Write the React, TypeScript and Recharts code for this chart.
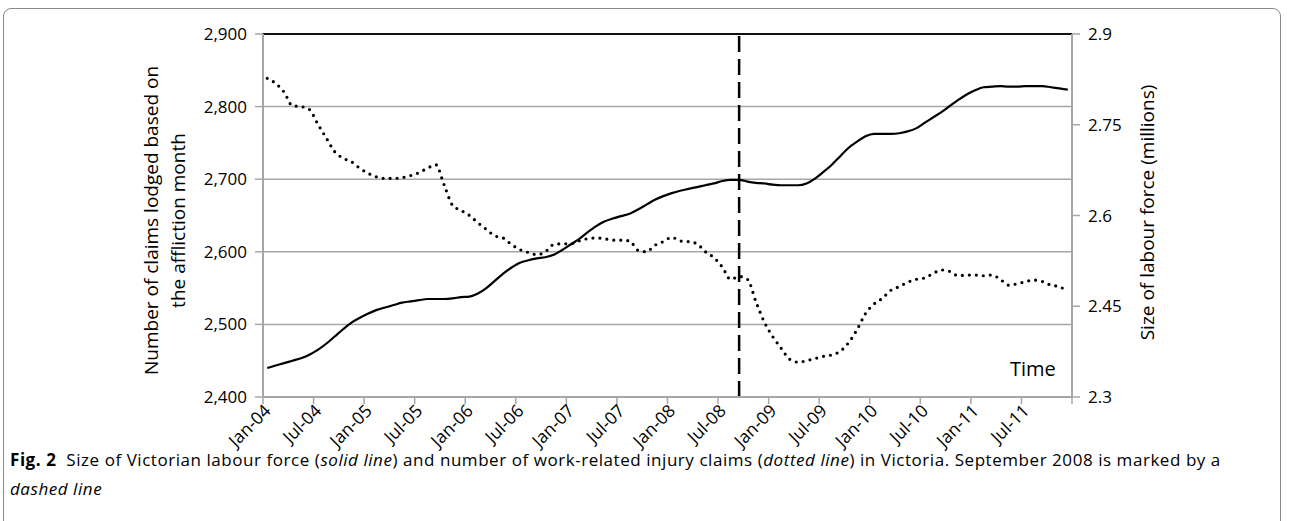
import {
  ComposedChart,
  Line,
  XAxis,
  YAxis,
  CartesianGrid,
  ReferenceLine,
} from "recharts";

const months = [
  "Jan-04", "Feb-04", "Mar-04", "Apr-04", "May-04", "Jun-04", "Jul-04", "Aug-04", "Sep-04", "Oct-04", "Nov-04", "Dec-04",
  "Jan-05", "Feb-05", "Mar-05", "Apr-05", "May-05", "Jun-05", "Jul-05", "Aug-05", "Sep-05", "Oct-05", "Nov-05", "Dec-05",
  "Jan-06", "Feb-06", "Mar-06", "Apr-06", "May-06", "Jun-06", "Jul-06", "Aug-06", "Sep-06", "Oct-06", "Nov-06", "Dec-06",
  "Jan-07", "Feb-07", "Mar-07", "Apr-07", "May-07", "Jun-07", "Jul-07", "Aug-07", "Sep-07", "Oct-07", "Nov-07", "Dec-07",
  "Jan-08", "Feb-08", "Mar-08", "Apr-08", "May-08", "Jun-08", "Jul-08", "Aug-08", "Sep-08", "Oct-08", "Nov-08", "Dec-08",
  "Jan-09", "Feb-09", "Mar-09", "Apr-09", "May-09", "Jun-09", "Jul-09", "Aug-09", "Sep-09", "Oct-09", "Nov-09", "Dec-09",
  "Jan-10", "Feb-10", "Mar-10", "Apr-10", "May-10", "Jun-10", "Jul-10", "Aug-10", "Sep-10", "Oct-10", "Nov-10", "Dec-10",
  "Jan-11", "Feb-11", "Mar-11", "Apr-11", "May-11", "Jun-11", "Jul-11", "Aug-11", "Sep-11", "Oct-11", "Nov-11", "Dec-11",
];

// claims lodged per affliction month (left axis, dotted)
const claims = [
  2839, 2832, 2820, 2801, 2800, 2796, 2776, 2757, 2738, 2729, 2724, 2715,
  2708, 2703, 2701, 2701, 2702, 2705, 2709, 2715, 2720, 2692, 2664, 2657,
  2650, 2640, 2631, 2622, 2619, 2610, 2603, 2599, 2596, 2600, 2610, 2611,
  2611, 2615, 2618, 2619, 2618, 2616, 2616, 2615, 2602, 2600, 2609, 2614,
  2620, 2615, 2614, 2611, 2600, 2592, 2579, 2562, 2566, 2562, 2531, 2503,
  2483, 2467, 2452, 2448, 2450, 2453, 2456, 2458, 2463, 2475, 2493, 2515,
  2528, 2536, 2547, 2552, 2558, 2562, 2564, 2570, 2575, 2573, 2567, 2568,
  2568, 2567, 2568, 2562, 2554, 2556, 2559, 2561, 2559, 2554, 2552, 2545,
];

// Victorian labour force, millions (right axis, solid)
const labour = [
  2.348, 2.352, 2.356, 2.36, 2.364, 2.37, 2.378, 2.388, 2.4, 2.412, 2.423, 2.431,
  2.438, 2.444, 2.448, 2.452, 2.456, 2.458, 2.46, 2.462, 2.462, 2.462, 2.463, 2.465,
  2.466, 2.471, 2.48, 2.492, 2.504, 2.514, 2.522, 2.526, 2.529, 2.531, 2.535, 2.543,
  2.552, 2.561, 2.572, 2.582, 2.59, 2.595, 2.599, 2.603, 2.61, 2.618, 2.626, 2.632,
  2.637, 2.641, 2.644, 2.647, 2.65, 2.653, 2.657, 2.659, 2.659, 2.656, 2.654, 2.653,
  2.651, 2.65, 2.65, 2.65, 2.653, 2.661, 2.672, 2.684, 2.698, 2.712, 2.722, 2.731,
  2.735, 2.735, 2.735, 2.736, 2.739, 2.744, 2.753, 2.762, 2.771, 2.781, 2.791, 2.8,
  2.807, 2.812, 2.813, 2.814, 2.813, 2.813, 2.814, 2.814, 2.814, 2.812, 2.81, 2.808,
];

const tickLabels = [
  "Jan-04", "Jul-04", "Jan-05", "Jul-05", "Jan-06", "Jul-06", "Jan-07", "Jul-07",
  "Jan-08", "Jul-08", "Jan-09", "Jul-09", "Jan-10", "Jul-10", "Jan-11", "Jul-11",
];
const leftTicks = [2400, 2500, 2600, 2700, 2800, 2900];
const rightTicks = [2.3, 2.45, 2.6, 2.75, 2.9];
const markedMonth = "Sep-08";

// each month sits in the middle of its slot, ticks on slot boundaries
const data = months.map((m, i) => ({ x: i + 0.5, month: m, claims: claims[i], labour: labour[i] }));
const xTicks = [...tickLabels.map((t) => months.indexOf(t)), months.length];

const FONT = "'Open Sans', sans-serif";
const GREY = "#a6a6a6";

function MonthTick(props: any) {
  const { x, y, payload } = props;
  const label = months[payload.value];
  if (!label || !tickLabels.includes(label)) return null;
  return (
    <text
      transform={`translate(${x + 4},${y + 1}) rotate(-45)`}
      textAnchor="end"
      dominantBaseline="central"
      fontSize={17.5}
      fontFamily={FONT}
      fill="#000"
    >
      {label}
    </text>
  );
}

const fmtComma = (v: number) => v.toLocaleString("en-US");

export default function App() {
  return (
    <div style={{ position: "absolute", left: 0, top: 0, width: 1290, height: 521, background: "#fff", overflow: "hidden" }}>
      <div
        style={{
          position: "absolute",
          left: 3,
          top: 8,
          width: 1278,
          height: 540,
          border: "1px solid #8a8a8a",
          borderRadius: 8,
          boxSizing: "border-box",
        }}
      />
      <div style={{ position: "absolute", left: 0, top: 0 }}>
        <ComposedChart width={1290} height={470} data={data} margin={{ top: 34, right: 0, bottom: 0, left: 0 }}>
          <CartesianGrid vertical={false} stroke={GREY} strokeWidth={1.5} yAxisId="left" />
          <XAxis
            type="number"
            dataKey="x"
            domain={[0, months.length]}
            ticks={xTicks}
            interval={0}
            height={73}
            tickSize={7}
            tickMargin={2}
            axisLine={{ stroke: GREY, strokeWidth: 2 }}
            tickLine={{ stroke: GREY, strokeWidth: 1.5 }}
            tick={<MonthTick />}
          />
          <YAxis
            yAxisId="left"
            orientation="left"
            width={263}
            domain={[2400, 2900]}
            ticks={leftTicks}
            interval={0}
            tickSize={8}
            tickMargin={8}
            tickFormatter={fmtComma}
            axisLine={{ stroke: GREY, strokeWidth: 2 }}
            tickLine={{ stroke: GREY, strokeWidth: 1.5 }}
            tick={{ fill: "#000", fontSize: 17, fontFamily: FONT }}
            label={{
              content: (p: any) => {
                const vb = p.viewBox;
                const cy = vb.y + vb.height / 2 + 5;
                return (
                  <g fontFamily={FONT} fontSize={19} fill="#000">
                    <text transform={`translate(158,${cy}) rotate(-90)`} textAnchor="middle">
                      Number of claims lodged based on
                    </text>
                    <text transform={`translate(185,${cy}) rotate(-90)`} textAnchor="middle">
                      the affliction month
                    </text>
                  </g>
                );
              },
            }}
          />
          <YAxis
            yAxisId="right"
            orientation="right"
            width={218}
            domain={[2.3, 2.9]}
            ticks={rightTicks}
            interval={0}
            tickSize={8}
            tickMargin={8}
            axisLine={{ stroke: GREY, strokeWidth: 2 }}
            tickLine={{ stroke: GREY, strokeWidth: 1.5 }}
            tick={{ fill: "#000", fontSize: 17, fontFamily: FONT }}
            label={{
              content: (p: any) => {
                const vb = p.viewBox;
                const cy = vb.y + vb.height / 2 - 3;
                return (
                  <text
                    transform={`translate(1154,${cy}) rotate(-90)`}
                    textAnchor="middle"
                    fontFamily={FONT}
                    fontSize={19}
                    fill="#000"
                  >
                    Size of labour force (millions)
                  </text>
                );
              },
            }}
          />
          <ReferenceLine yAxisId="left" y={2900} stroke="#111" strokeWidth={2} />
          <ReferenceLine
            yAxisId="left"
            x={months.indexOf(markedMonth) + 0.5}
            stroke="#000"
            strokeWidth={2.5}
            strokeDasharray="16 7"
          />
          <Line
            yAxisId="left"
            type="monotone"
            dataKey="claims"
            stroke="#000"
            strokeWidth={3.2}
            strokeDasharray="0 7"
            strokeLinecap="round"
            dot={false}
            isAnimationActive={false}
          />
          <Line
            yAxisId="right"
            type="monotone"
            dataKey="labour"
            stroke="#000"
            strokeWidth={2.2}
            dot={false}
            isAnimationActive={false}
          />
        </ComposedChart>
      </div>
      <div style={{ position: "absolute", left: 1010, top: 357, fontFamily: FONT, fontSize: 20, lineHeight: "24px" }}>
        Time
      </div>
      <div
        style={{
          position: "absolute",
          left: 10,
          top: 445,
          width: 1270,
          fontFamily: FONT,
          fontSize: 17,
          letterSpacing: 0.55,
          lineHeight: "29px",
          color: "#000",
          whiteSpace: "nowrap",
        }}
      >
        <b>Fig. 2</b>&nbsp; Size of Victorian labour force (<i>solid line</i>) and number of work-related injury claims (
        <i>dotted line</i>) in Victoria. September 2008 is marked by a
        <br />
        <i>dashed line</i>
      </div>
    </div>
  );
}
